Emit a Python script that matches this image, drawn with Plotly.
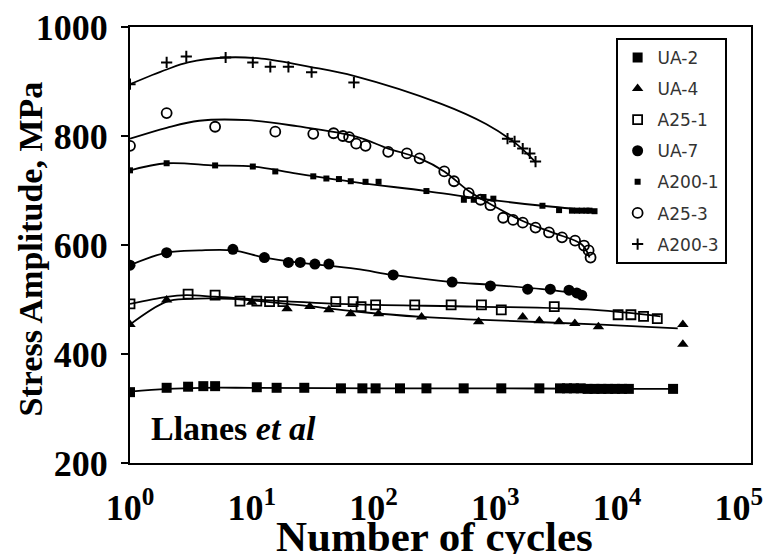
import plotly.graph_objects as go

# ---- cycles (N) and stress amplitude (MPa) for each specimen ----
ua2_n = [1, 2, 3, 4, 5, 11, 16, 27, 54, 81, 104, 165, 272, 550, 1120, 2300,
         3400, 3880, 4420, 5030, 5730, 6530, 7430, 8460, 9640, 10970, 12500, 28840]
ua2_s = [330, 338, 340, 341, 341, 339, 338, 338, 337, 337, 337, 337, 337, 337, 337, 337,
         337, 337, 337, 337, 336, 336, 336, 336, 336, 336, 336, 336]

ua4_n = [1, 2, 10, 19.5, 30, 43, 65, 110, 248, 730, 1680, 2300, 3340, 4500, 7030, 34700, 34700]
ua4_s = [454, 499, 495, 483, 487, 481, 474, 474, 468, 459, 468, 461, 459, 456, 450, 454, 418]

a251_n = [1, 3, 5, 8, 11, 14, 18, 49, 68, 79, 104, 218, 434, 770, 1120, 3050,
          10200, 13000, 16500, 21400]
a251_s = [492, 510, 508, 497, 497, 496, 496, 496, 496, 487, 490, 490, 490, 490, 481, 487,
          472, 472, 469, 465]

ua7_n = [1, 2, 7, 12.7, 20, 25, 33, 43, 145, 442, 912, 1845, 2830, 4030, 4670, 5130]
ua7_s = [563, 586, 592, 577, 568, 568, 565, 565, 545, 532, 525, 519, 519, 517, 512, 508]

a2001_n = [1, 2, 5, 10.2, 15.6, 32, 41, 52, 65, 86, 110, 272, 552, 665, 800, 964,
           2440, 3340, 4260, 4700, 5130, 5600, 5940, 6530]
a2001_s = [737, 750, 746, 744, 735, 726, 722, 721, 717, 716, 716, 699, 683, 683, 688, 685,
           672, 664, 663, 663, 663, 663, 663, 662]

a253_n = [1, 2, 5, 15.6, 32, 47, 56, 63, 72, 86, 132, 188, 239, 381, 458, 605, 757,
          912, 1160, 1400, 1680, 2140, 2760, 3530, 4520, 5350, 5840, 6060]
a253_s = [782, 842, 817, 808, 804, 805, 800, 798, 786, 782, 771, 768, 759, 735, 717, 695, 683,
          673, 650, 646, 641, 632, 623, 614, 608, 599, 590, 577]

a2003_n = [1, 2, 2.9, 6.1, 10.2, 14.2, 20, 31, 69, 1260, 1440, 1680, 1920, 2140]
a2003_s = [895, 935, 946, 944, 935, 927, 927, 917, 898, 795, 790, 777, 768, 753]

# ---- fitted trend curves ----
ua2_fit_n = [1, 2, 4, 10, 100, 1000, 10000, 28840]
ua2_fit_s = [331, 336, 338, 338, 337, 337, 336, 336]

ua4_fit_n = [1, 2, 3.05, 6.8, 23.5, 72, 248, 700, 7430, 31500]
ua4_fit_s = [454, 496, 501, 501, 490, 478, 468, 463, 454, 447]

a251_fit_n = [1, 2, 2.9, 5, 12.7, 72, 700, 6530, 22700]
a251_fit_s = [492, 505, 508, 505, 499, 491, 487, 481, 469]

ua7_fit_n = [1, 2, 3.7, 7, 12.7, 23.5, 72, 145, 442, 912, 2440, 5130]
ua7_fit_s = [563, 586, 590, 590, 577, 568, 556, 545, 532, 527, 519, 510]

a2001_fit_n = [1, 2, 5, 10.2, 23.5, 72, 272, 700, 2440, 6530]
a2001_fit_s = [737, 750, 746, 744, 731, 715, 699, 686, 672, 663]

a253_fit_n = [1, 2, 3.7, 9.3, 23.5, 72, 132, 239, 381, 605, 964, 1680, 2930, 5130, 5940]
a253_fit_s = [795, 815, 828, 829, 818, 799, 777, 759, 735, 699, 672, 644, 623, 601, 577]

a2003_fit_n = [1, 2, 3, 6, 12, 30, 70, 360, 840, 1480, 2140]
a2003_fit_s = [895, 922, 935, 944, 942, 927, 910, 859, 822, 786, 752]

x_ticks = [1, 10, 100, 1000, 10000, 100000]
x_tick_text = ["10<sup>0</sup>", "10<sup>1</sup>", "10<sup>2</sup>",
               "10<sup>3</sup>", "10<sup>4</sup>", "10<sup>5</sup>"]
y_ticks = [200, 400, 600, 800, 1000]

SERIF = "Liberation Serif"
INK = "black"

series = [
    ("UA-2", ua2_n, ua2_s, ua2_fit_n, ua2_fit_s, dict(symbol="square", size=10, color=INK)),
    ("UA-4", ua4_n, ua4_s, ua4_fit_n, ua4_fit_s, dict(symbol="triangle-up", size=10, color=INK)),
    ("A25-1", a251_n, a251_s, a251_fit_n, a251_fit_s,
     dict(symbol="square-open", size=9, color=INK, line=dict(width=1.8, color=INK))),
    ("UA-7", ua7_n, ua7_s, ua7_fit_n, ua7_fit_s, dict(symbol="circle", size=11, color=INK)),
    ("A200-1", a2001_n, a2001_s, a2001_fit_n, a2001_fit_s, dict(symbol="square", size=6, color=INK)),
    ("A25-3", a253_n, a253_s, a253_fit_n, a253_fit_s,
     dict(symbol="circle-open", size=10, color=INK, line=dict(width=1.8, color=INK))),
    ("A200-3", a2003_n, a2003_s, a2003_fit_n, a2003_fit_s,
     dict(symbol="cross-thin", size=8, color=INK, line=dict(width=2, color=INK))),
]

fig = go.Figure()
for name, n, s, fn, fs, mk in series:
    fig.add_trace(go.Scatter(
        x=fn, y=fs, mode="lines", line=dict(color=INK, width=1.8, shape="spline", smoothing=1.0),
        legendgroup=name, showlegend=False, hoverinfo="skip"))
    fig.add_trace(go.Scatter(
        x=n, y=s, mode="markers", name=name, marker=mk, legendgroup=name))

# run-out arrow after the last UA-2 specimen point
last_n, last_s = ua2_n[-1], ua2_s[-1]
fig.add_annotation(
    x=last_n * 2.3, y=last_s, ax=last_n * 1.4, ay=last_s,
    xref="x", yref="y", axref="x", ayref="y",
    text="", showarrow=True, arrowhead=2, arrowsize=1.2, arrowwidth=1.8, arrowcolor=INK)

fig.add_annotation(
    text="<b>Llanes <i>et al</i></b>", xref="paper", yref="paper",
    x=0.03, y=0.079, xanchor="left", yanchor="middle", showarrow=False,
    font=dict(family=SERIF, size=34, color=INK))

fig.add_annotation(
    text="<b>Number of cycles</b>", xref="paper", yref="paper",
    x=0.49, y=-0.168, xanchor="center", yanchor="middle", showarrow=False,
    font=dict(family=SERIF, size=43, color=INK))

fig.add_annotation(
    text="<b>Stress Amplitude, MPa</b>", xref="paper", yref="paper",
    x=-0.161, y=0.49, xanchor="center", yanchor="middle", showarrow=False, textangle=-90,
    font=dict(family=SERIF, size=34, color=INK))

fig.update_layout(
    width=771, height=554,
    margin=dict(l=130, r=8, t=22, b=91),
    paper_bgcolor="white", plot_bgcolor="white",
    showlegend=True,
    legend=dict(
        x=0.782, y=0.975, xanchor="left", yanchor="top",
        bgcolor="white", bordercolor=INK, borderwidth=2,
        font=dict(family="DejaVu Sans", size=17, color="#333"),
        traceorder="grouped", tracegroupgap=6,
    ),
)

fig.update_xaxes(
    type="log", range=[0, 5.1],
    tickvals=x_ticks, ticktext=x_tick_text,
    tickfont=dict(family=SERIF, size=36, color=INK, weight="bold"),
    ticks="", ticklabelstandoff=12, ticklabeloverflow="allow",
    showline=True, linecolor=INK, linewidth=2, mirror=True,
    showgrid=False, zeroline=False,
)
fig.update_yaxes(
    range=[200, 1000],
    tickvals=y_ticks,
    tickfont=dict(family=SERIF, size=36, color=INK, weight="bold"),
    ticks="outside", ticklen=7, tickwidth=1.5, tickcolor=INK, ticklabelstandoff=6,
    showline=True, linecolor=INK, linewidth=2, mirror=True,
    showgrid=False, zeroline=False,
)

fig.write_html("out.html")
